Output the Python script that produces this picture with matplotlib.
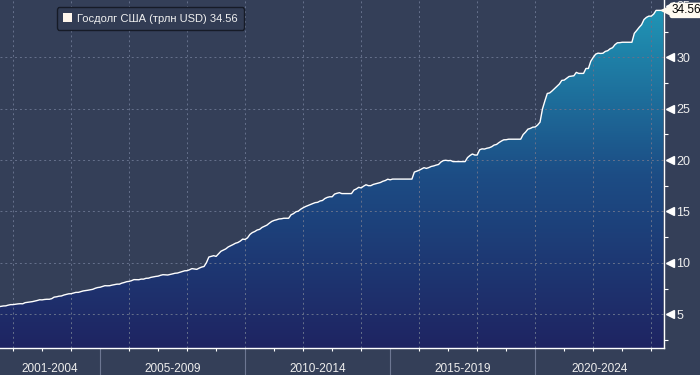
import numpy as np
import matplotlib.pyplot as plt
import matplotlib.transforms as mtransforms
from matplotlib.colors import LinearSegmentedColormap
from matplotlib.patches import Patch

plt.rcParams['font.family'] = ['Liberation Sans', 'DejaVu Sans']

# US public debt, trillion USD, monthly from Jul 2001
debt = [
    5.73, 5.77, 5.81, 5.82, 5.89, 5.94,
    5.94, 5.98, 6.01, 6.03, 6.02, 6.13, 6.16, 6.20, 6.23, 6.28, 6.34, 6.41,
    6.40, 6.44, 6.46, 6.46, 6.52, 6.67, 6.70, 6.76, 6.78, 6.87, 6.93, 6.99,
    7.00, 7.07, 7.13, 7.13, 7.20, 7.27, 7.30, 7.34, 7.38, 7.43, 7.53, 7.60,
    7.63, 7.71, 7.78, 7.77, 7.78, 7.84, 7.88, 7.93, 7.93, 8.03, 8.09, 8.17,
    8.20, 8.27, 8.37, 8.36, 8.36, 8.42, 8.42, 8.50, 8.51, 8.59, 8.64, 8.68,
    8.71, 8.79, 8.85, 8.83, 8.82, 8.87, 8.93, 8.99, 9.01, 9.08, 9.14, 9.23,
    9.24, 9.33, 9.44, 9.41, 9.37, 9.49, 9.59, 9.65, 10.02, 10.57, 10.63, 10.70,
    10.63, 10.88, 11.13, 11.24, 11.36, 11.55, 11.66, 11.78, 11.91, 11.98, 12.12, 12.31,
    12.28, 12.44, 12.77, 12.95, 13.05, 13.20, 13.26, 13.45, 13.56, 13.67, 13.86, 14.03,
    14.13, 14.19, 14.27, 14.29, 14.34, 14.34, 14.34, 14.68, 14.79, 14.97, 15.03, 15.22,
    15.36, 15.48, 15.58, 15.69, 15.77, 15.86, 15.89, 16.02, 16.07, 16.26, 16.37, 16.43,
    16.43, 16.69, 16.77, 16.83, 16.74, 16.74, 16.74, 16.74, 16.74, 17.08, 17.19, 17.35,
    17.29, 17.46, 17.60, 17.51, 17.51, 17.63, 17.69, 17.75, 17.82, 17.94, 18.01, 18.14,
    18.08, 18.15, 18.15, 18.15, 18.15, 18.15, 18.15, 18.15, 18.15, 18.15, 18.83, 18.92,
    19.01, 19.13, 19.26, 19.19, 19.27, 19.38, 19.43, 19.51, 19.57, 19.81, 19.95, 19.98,
    19.94, 19.96, 19.85, 19.85, 19.85, 19.85, 19.85, 19.85, 20.24, 20.44, 20.59, 20.49,
    20.49, 21.00, 21.09, 21.07, 21.15, 21.20, 21.30, 21.46, 21.52, 21.70, 21.85, 21.97,
    21.98, 22.03, 22.03, 22.03, 22.03, 22.03, 22.03, 22.48, 22.72, 23.01, 23.08, 23.20,
    23.22, 23.41, 23.69, 24.97, 25.75, 26.48, 26.53, 26.73, 26.95, 27.17, 27.40, 27.75,
    27.78, 27.95, 28.13, 28.17, 28.20, 28.53, 28.43, 28.43, 28.43, 28.91, 28.91, 29.62,
    29.99, 30.30, 30.40, 30.37, 30.39, 30.57, 30.64, 30.83, 30.93, 31.23, 31.41, 31.42,
    31.46, 31.46, 31.46, 31.46, 31.46, 32.33, 32.61, 32.91, 33.17, 33.67, 33.88, 34.00,
    34.00, 34.20, 34.56, 34.56, 34.56, 34.56,
]
t = 2001.5 + np.arange(len(debt)) / 12

groups = ['2001-2004', '2005-2009', '2010-2014', '2015-2019', '2020-2024']
group_edges = [2001, 2005, 2010, 2015, 2020, 2025]
legend_label = 'Госдолг США (трлн USD) 34.56'
last_label = '34.56'

bg = '#343f58'
fig = plt.figure(figsize=(7, 3.75), dpi=100, facecolor=bg)
ax = fig.add_axes([0, 27 / 375, 664 / 700, 348 / 375])
ax.set_facecolor(bg)

xmin, xmax = 2001.55, 2024.44
ymin, ymax = 1.72, 35.57
ax.set_xlim(xmin, xmax)
ax.set_ylim(ymin, ymax)

# gradient area
cmap = LinearSegmentedColormap.from_list('g', ['#1f2462', '#1c4d85', '#2099b8'])
grad = np.linspace(0, 1, 256).reshape(-1, 1)
im = ax.imshow(grad, cmap=cmap, aspect='auto', origin='lower',
               extent=[xmin, xmax, ymin, ymax], zorder=1)
poly = ax.fill_between(t, debt, ymin, color='none', zorder=1)
im.set_clip_path(poly.get_paths()[0], transform=ax.transData)
ax.plot(t, debt, color='white', lw=1, zorder=3)

# grid
for v in range(5, 35, 5):
    ax.axhline(v, color='#66718c', lw=0.7, ls=(0, (2, 3)), zorder=2)
for yr in range(2002, 2025, 2):
    ax.axvline(yr, color='#66718c', lw=0.7, ls=(0, (2, 3)), zorder=2)

for s in ['left', 'top']:
    ax.spines[s].set_visible(False)
for s in ['right', 'bottom']:
    ax.spines[s].set_color('white')
    ax.spines[s].set_linewidth(1)
    ax.spines[s].set_zorder(4)

# y axis on right
ax.yaxis.tick_right()
ax.set_yticks(range(5, 40, 5))
ax.set_yticks(np.arange(2.5, 35, 5), minor=True)
ax.tick_params(axis='y', which='major', length=0, pad=9, labelsize=9, labelcolor='#eeeeee')
ax.tick_params(axis='y', which='minor', length=3, width=0.8, color='white')
ytr = mtransforms.blended_transform_factory(ax.transAxes, ax.transData)
for v in range(5, 40, 5):
    ax.plot(1.0085, v, marker='<', ms=6, color='white', transform=ytr, clip_on=False, zorder=5)

# x axis
ax.set_xticks(group_edges[1:-1])
ax.set_xticks(range(2002, 2025), minor=True)
ax.set_xticklabels([])
ax.tick_params(axis='x', which='major', length=20, width=0.8, color='#6d7792')
ax.tick_params(axis='x', which='minor', length=2.5, width=0.8, color='white')
xtr = mtransforms.blended_transform_factory(ax.transData, ax.transAxes)
for lab, a, b in zip(groups, group_edges[:-1], group_edges[1:]):
    c = (max(a, xmin) + min(b, xmax)) / 2
    ax.text(c, -0.06, lab, transform=xtr, ha='center', va='center',
            fontsize=8.5, color='#eeeeee')

# legend
leg = ax.legend(handles=[Patch(facecolor='#fff6ec', edgecolor='none')], labels=[legend_label],
                loc='upper left', bbox_to_anchor=(0.077, 0.995), fontsize=8,
                handlelength=0.8, handleheight=0.8, handletextpad=0.5,
                frameon=True, fancybox=True, framealpha=1, borderpad=0.55)
leg.get_frame().set_facecolor('#323c54')
leg.get_frame().set_edgecolor('#161b27')
for txt in leg.get_texts():
    txt.set_color('#f0f0f0')

# last value tag
tag_color = '#fffaf0'
ax.plot(1.004, debt[-1], marker='<', ms=9, color=tag_color, transform=ytr,
        clip_on=False, zorder=6)
ax.text(1.011, debt[-1], last_label, transform=ytr, ha='left', va='center',
        fontsize=8.5, color='black', zorder=7,
        bbox=dict(boxstyle='round,pad=0.15,rounding_size=0.2', facecolor=tag_color, edgecolor='none'))

fig.savefig('out.png', dpi=100, facecolor=bg)
